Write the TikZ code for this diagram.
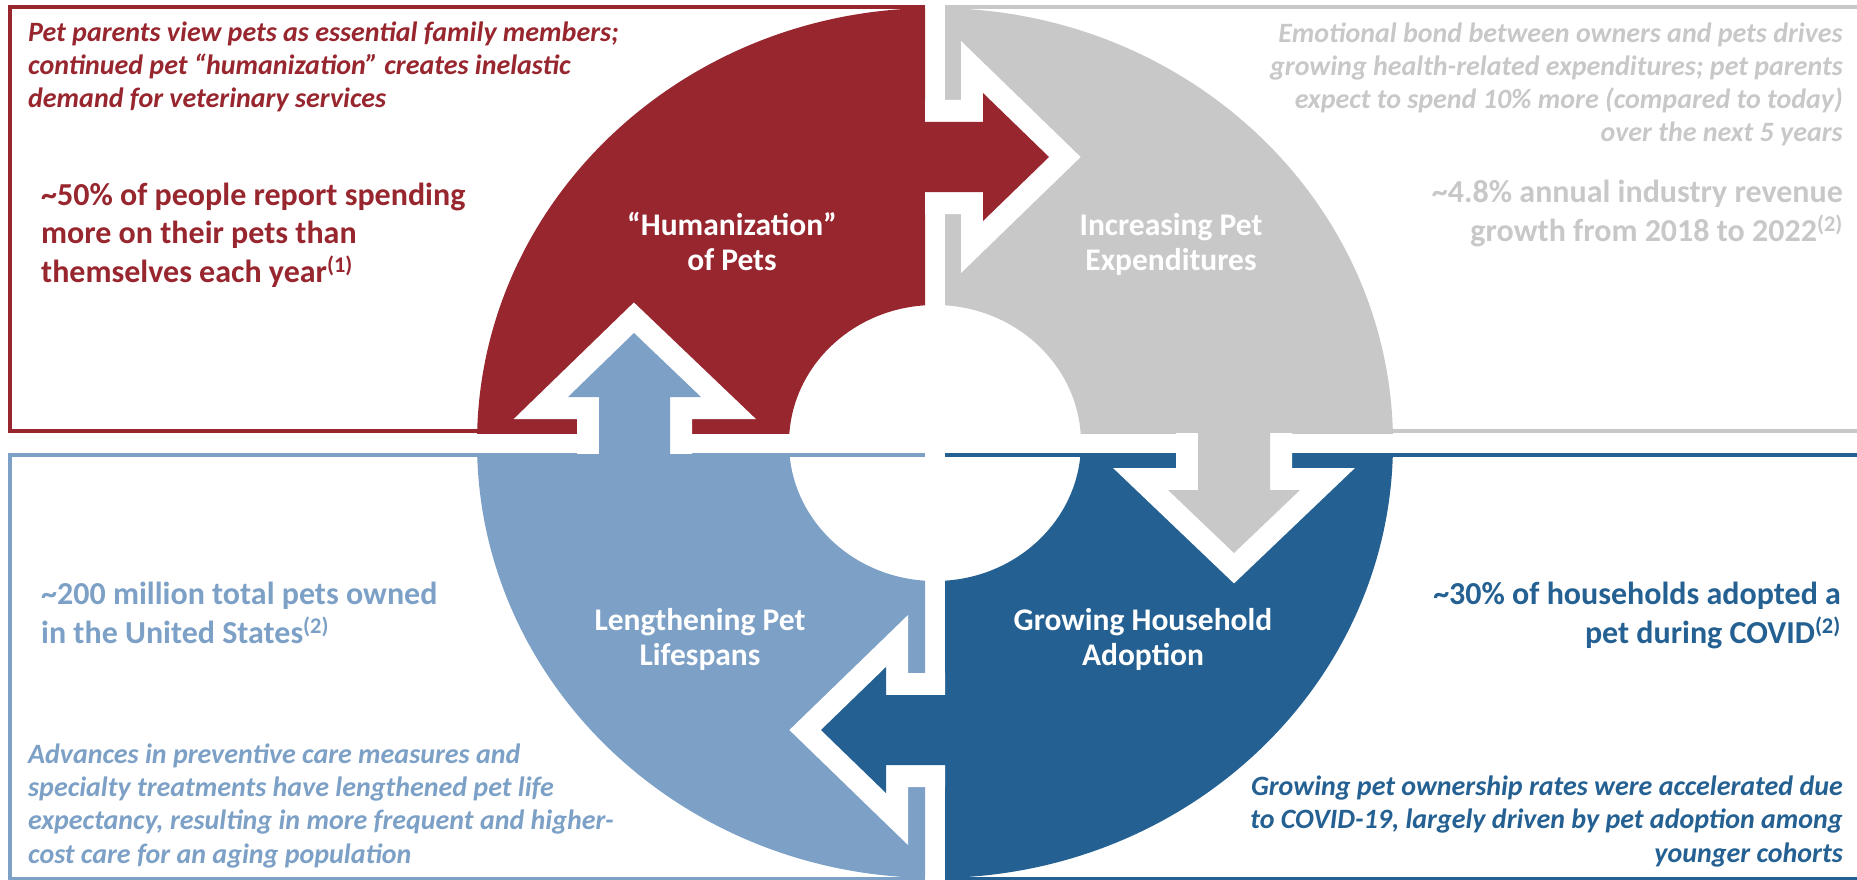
\documentclass[tikz,border=0pt]{standalone}
\usepackage{fontspec}
\setmainfont{Carlito}
\definecolor{cRed}{HTML}{98262F}
\definecolor{cGray}{HTML}{C8C8C8}
\definecolor{cLight}{HTML}{7CA0C6}
\definecolor{cDark}{HTML}{246192}
\tikzset{
  boxline/.style={line width=4pt},
  quad/.style={even odd rule},
  halo/.style={draw=white, line width=44pt, miter limit=10, line join=miter},
  note/.style={inner sep=0pt, font=\bfseries\itshape\fontsize{28}{33.3}\selectfont},
  fact/.style={inner sep=0pt, font=\bfseries\fontsize{32}{38.5}\selectfont},
  label/.style={inner sep=0pt, text=white, align=center, font=\bfseries\fontsize{31.5}{35}\selectfont}
}
\begin{document}
\begin{tikzpicture}[x=1pt,y=-1pt]
\useasboundingbox (0,0) rectangle (1857,880);
\coordinate (C) at (935,443);
% boxes
\draw[boxline, cRed] (925,7) -- (9.5,7) -- (9.5,431) -- (700,431);
\draw[boxline, cGray] (945,7) -- (1870,7);
\draw[boxline, cGray] (1200,431) -- (1870,431);
\draw[boxline, cLight] (925,455) -- (9.5,455) -- (9.5,879) -- (925,879);
\draw[boxline, cDark] (945,455) -- (1870,455);
\draw[boxline, cDark] (945,879) -- (1870,879);
% quadrants
\begin{scope}
  \clip (0,0) rectangle (925,433);
  \fill[cRed, quad] (C) ellipse [x radius=458, y radius=435] (C) ellipse [x radius=146, y radius=138];
\end{scope}
\begin{scope}
  \clip (945,0) rectangle (1857,433);
  \fill[cGray, quad] (C) ellipse [x radius=458, y radius=435] (C) ellipse [x radius=146, y radius=138];
\end{scope}
\begin{scope}
  \clip (945,453) rectangle (1857,880);
  \fill[cDark, quad] (C) ellipse [x radius=458, y radius=435] (C) ellipse [x radius=146, y radius=138];
\end{scope}
\begin{scope}
  \clip (0,453) rectangle (925,880);
  \fill[cLight, quad] (C) ellipse [x radius=458, y radius=435] (C) ellipse [x radius=146, y radius=138];
\end{scope}
% arrows: white halos clipped to destination side
\begin{scope}
  \clip (925,0) rectangle (1857,433);
  \draw[halo] (905,122) -- (983,122) -- (983,93) -- (1049,157) -- (983,221) -- (983,192) -- (905,192) -- cycle;
\end{scope}
\begin{scope}
  \clip (935,433) rectangle (1857,880);
  \draw[halo] (1198,413) -- (1198,490) -- (1168,490) -- (1234,553) -- (1300,490) -- (1270,490) -- (1270,413) -- cycle;
\end{scope}
\begin{scope}
  \clip (0,453) rectangle (945,880);
  \draw[halo] (965,695) -- (886,695) -- (886,667) -- (821,730) -- (886,793) -- (886,765) -- (965,765) -- cycle;
\end{scope}
\begin{scope}
  \clip (0,0) rectangle (935,453);
  \draw[halo] (599,473) -- (599,397) -- (568,397) -- (634,333) -- (701,397) -- (670,397) -- (670,473) -- cycle;
\end{scope}
\fill[cRed] (905,122) -- (983,122) -- (983,93) -- (1049,157) -- (983,221) -- (983,192) -- (905,192) -- cycle;
\fill[cGray] (1198,413) -- (1198,490) -- (1168,490) -- (1234,553) -- (1300,490) -- (1270,490) -- (1270,413) -- cycle;
\fill[cDark] (965,695) -- (886,695) -- (886,667) -- (821,730) -- (886,793) -- (886,765) -- (965,765) -- cycle;
\fill[cLight] (599,473) -- (599,397) -- (568,397) -- (634,333) -- (701,397) -- (670,397) -- (670,473) -- cycle;
% quadrant labels (anchor = baseline of last line)
\node[label, anchor=base] (lblA) at (732,270) {“Humanization”\\of Pets};
\node[label, anchor=base] (lblB) at (1171,270) {Increasing Pet\\Expenditures};
\node[label, anchor=base] (lblC) at (1143,665) {Growing Household\\Adoption};
\node[label, anchor=base] (lblD) at (700,665) {Lengthening Pet\\Lifespans};
% red box text
\node[note, text=cRed, align=left, anchor=base west] (noteA) at (28,108) {Pet parents view pets as essential family members;\\continued pet “humanization” creates inelastic\\demand for veterinary services};
\node[fact, text=cRed, align=left, anchor=base west] (factA) at (41,282) {\textasciitilde 50\% of people report spending\\more on their pets than\\themselves each year\textsuperscript{(1)}};
% gray box text
\node[note, text=cGray, align=right, anchor=base east] (noteB) at (1843,142) {Emotional bond between owners and pets drives\\growing health-related expenditures; pet parents\\expect to spend 10\% more (compared to today)\\over the next 5 years};
\node[fact, text=cGray, align=right, anchor=base east] (factB) at (1843,241) {\textasciitilde 4.8\% annual industry revenue\\growth from 2018 to 2022\textsuperscript{(2)}};
% light blue box text
\node[fact, text=cLight, align=left, anchor=base west] (factD) at (41,643) {\textasciitilde 200 million total pets owned\\in the United States\textsuperscript{(2)}};
\node[note, text=cLight, align=left, anchor=base west] (noteD) at (28,863) {Advances in preventive care measures and\\specialty treatments have lengthened pet life\\expectancy, resulting in more frequent and higher-\\cost care for an aging population};
% dark blue box text
\node[fact, text=cDark, align=right, anchor=base east] (factC) at (1841,643) {\textasciitilde 30\% of households adopted a\\pet during COVID\textsuperscript{(2)}};
\node[note, text=cDark, align=right, anchor=base east] (noteC) at (1843,862) {Growing pet ownership rates were accelerated due\\to COVID-19, largely driven by pet adoption among\\younger cohorts};
\end{tikzpicture}
\end{document}
